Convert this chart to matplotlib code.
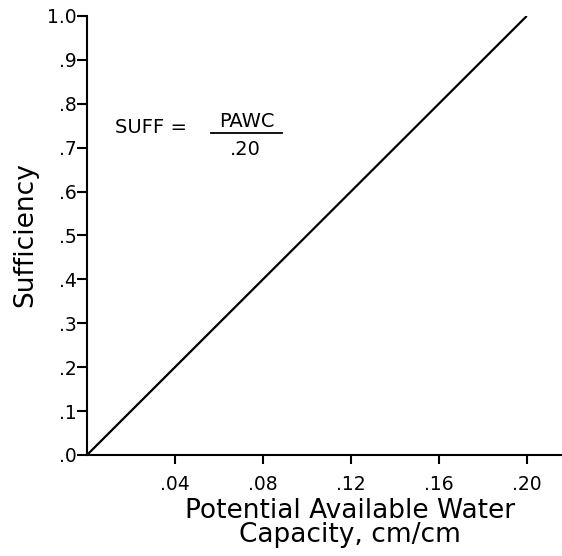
import numpy as np
import matplotlib.pyplot as plt
from matplotlib.lines import Line2D

plt.rcParams['font.family'] = ['DejaVu Sans']

# data
pawc = [0.0, 0.20]
suff = [0.0, 1.0]

x_ticks = [0.04, 0.08, 0.12, 0.16, 0.20]
x_tick_labels = ['.04', '.08', '.12', '.16', '.20']
y_ticks = [0.0, 0.1, 0.2, 0.3, 0.4, 0.5, 0.6, 0.7, 0.8, 0.9, 1.0]
y_tick_labels = ['.0', '.1', '.2', '.3', '.4', '.5', '.6', '.7', '.8', '.9', '1.0']

fig = plt.figure(figsize=(5.62, 5.56), dpi=100)
ax = fig.add_axes([0.1548, 0.1817, 0.8452, 0.7896])

ax.plot(pawc, suff, color='black', lw=1.6, solid_capstyle='butt')

ax.set_xlim(0, 0.216)
ax.set_ylim(0, 1.0)

ax.set_xticks(x_ticks)
ax.set_xticklabels(x_tick_labels)
ax.set_yticks(y_ticks)
ax.set_yticklabels(y_tick_labels)

ax.tick_params(axis='x', direction='out', length=6.5, width=1.5, pad=8, labelsize=13.5)
ax.tick_params(axis='y', direction='out', length=7, width=1.5, pad=0.5, labelsize=13.5)

for side in ['top', 'right']:
    ax.spines[side].set_visible(False)
for side in ['left', 'bottom']:
    ax.spines[side].set_linewidth(1.5)

ax.set_xlabel('Potential Available Water\nCapacity, cm/cm', fontsize=19,
              linespacing=0.9, va='top')
ax.xaxis.set_label_coords(0.554, -0.099)
ax.set_ylabel('Sufficiency', fontsize=19, va='center')
ax.yaxis.set_label_coords(-0.1305, 0.501)

# equation
ax.text(0.059, 0.745, 'SUFF =', transform=ax.transAxes, fontsize=14,
        ha='left', va='center')
ax.text(0.337, 0.747, 'PAWC', transform=ax.transAxes, fontsize=14,
        ha='center', va='baseline')
ax.add_line(Line2D([0.261, 0.411], [0.7335, 0.7335], transform=ax.transAxes,
                   color='black', lw=1.3))
ax.text(0.333, 0.683, '.20', transform=ax.transAxes, fontsize=14,
        ha='center', va='baseline')

fig.savefig('out.png', dpi=100)
